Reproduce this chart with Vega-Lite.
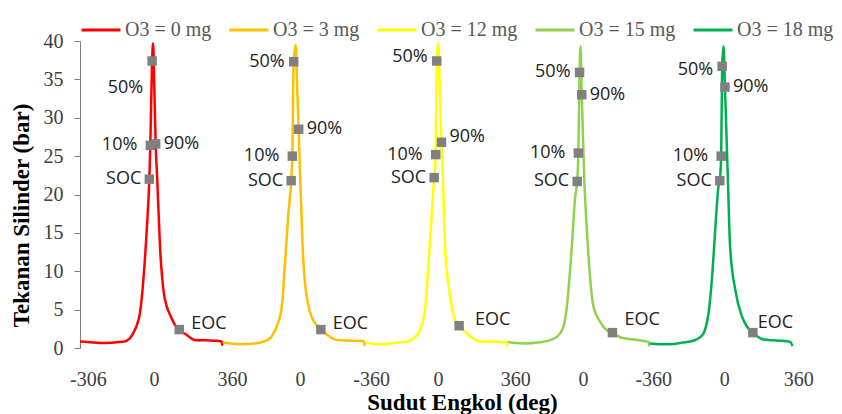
{
 "$schema": "https://vega.github.io/schema/vega-lite/v6.json",
 "width": 721,
 "height": 307,
 "autosize": {"type": "none"},
 "padding": {"left": 80, "top": 41, "right": 41, "bottom": 66},
 "background": "white",
 "config": {"view": {"stroke": null}, "font": "Liberation Serif"},
 "datasets": {
  "curves": [
   {"series":"O3 = 0 mg","x":0,"p":0.85},{"series":"O3 = 0 mg","x":50,"p":0.75},{"series":"O3 = 0 mg","x":101,"p":0.65},{"series":"O3 = 0 mg","x":160,"p":0.7},{"series":"O3 = 0 mg","x":217,"p":0.8},{"series":"O3 = 0 mg","x":252,"p":1.25},{"series":"O3 = 0 mg","x":268,"p":1.9},{"series":"O3 = 0 mg","x":290,"p":3.2},{"series":"O3 = 0 mg","x":303,"p":4.6},{"series":"O3 = 0 mg","x":320,"p":8.9},{"series":"O3 = 0 mg","x":337,"p":15.4},{"series":"O3 = 0 mg","x":350,"p":22.0},{"series":"O3 = 0 mg","x":355,"p":26.4},{"series":"O3 = 0 mg","x":364,"p":37.4},{"series":"O3 = 0 mg","x":369,"p":39.7},{"series":"O3 = 0 mg","x":376,"p":33.0},{"series":"O3 = 0 mg","x":382,"p":26.6},{"series":"O3 = 0 mg","x":390,"p":21.9},{"series":"O3 = 0 mg","x":404,"p":13.2},{"series":"O3 = 0 mg","x":421,"p":7.6},{"series":"O3 = 0 mg","x":438,"p":5.4},{"series":"O3 = 0 mg","x":455,"p":4.3},{"series":"O3 = 0 mg","x":480,"p":3.0},{"series":"O3 = 0 mg","x":501,"p":2.4},{"series":"O3 = 0 mg","x":520,"p":2.0},{"series":"O3 = 0 mg","x":539,"p":1.7},{"series":"O3 = 0 mg","x":565,"p":1.2},{"series":"O3 = 0 mg","x":589,"p":1.0},{"series":"O3 = 0 mg","x":630,"p":1.0},{"series":"O3 = 0 mg","x":673,"p":0.95},{"series":"O3 = 0 mg","x":715,"p":0.85},{"series":"O3 = 0 mg","x":719,"p":0.3},
   {"series":"O3 = 3 mg","x":721,"p":0.75},{"series":"O3 = 3 mg","x":760,"p":0.6},{"series":"O3 = 3 mg","x":808,"p":0.5},{"series":"O3 = 3 mg","x":880,"p":0.6},{"series":"O3 = 3 mg","x":943,"p":1.0},{"series":"O3 = 3 mg","x":970,"p":1.6},{"series":"O3 = 3 mg","x":993,"p":2.8},{"series":"O3 = 3 mg","x":1019,"p":5.4},{"series":"O3 = 3 mg","x":1035,"p":11.0},{"series":"O3 = 3 mg","x":1052,"p":17.5},{"series":"O3 = 3 mg","x":1066,"p":21.8},{"series":"O3 = 3 mg","x":1072,"p":25.0},{"series":"O3 = 3 mg","x":1079,"p":37.3},{"series":"O3 = 3 mg","x":1089,"p":39.5},{"series":"O3 = 3 mg","x":1097,"p":33.5},{"series":"O3 = 3 mg","x":1104,"p":28.5},{"series":"O3 = 3 mg","x":1112,"p":21.9},{"series":"O3 = 3 mg","x":1124,"p":13.2},{"series":"O3 = 3 mg","x":1134,"p":9.0},{"series":"O3 = 3 mg","x":1145,"p":6.7},{"series":"O3 = 3 mg","x":1160,"p":4.8},{"series":"O3 = 3 mg","x":1178,"p":3.6},{"series":"O3 = 3 mg","x":1216,"p":2.4},{"series":"O3 = 3 mg","x":1235,"p":2.0},{"series":"O3 = 3 mg","x":1254,"p":1.6},{"series":"O3 = 3 mg","x":1280,"p":1.2},{"series":"O3 = 3 mg","x":1313,"p":1.0},{"series":"O3 = 3 mg","x":1370,"p":0.95},{"series":"O3 = 3 mg","x":1431,"p":0.9},{"series":"O3 = 3 mg","x":1438,"p":0.25},
   {"series":"O3 = 12 mg","x":1440,"p":0.7},{"series":"O3 = 12 mg","x":1480,"p":0.55},{"series":"O3 = 12 mg","x":1524,"p":0.5},{"series":"O3 = 12 mg","x":1600,"p":0.7},{"series":"O3 = 12 mg","x":1658,"p":0.9},{"series":"O3 = 12 mg","x":1685,"p":1.3},{"series":"O3 = 12 mg","x":1708,"p":1.9},{"series":"O3 = 12 mg","x":1728,"p":3.2},{"series":"O3 = 12 mg","x":1742,"p":5.0},{"series":"O3 = 12 mg","x":1759,"p":11.0},{"series":"O3 = 12 mg","x":1776,"p":17.5},{"series":"O3 = 12 mg","x":1788,"p":22.2},{"series":"O3 = 12 mg","x":1796,"p":25.2},{"series":"O3 = 12 mg","x":1801,"p":37.4},{"series":"O3 = 12 mg","x":1809,"p":39.7},{"series":"O3 = 12 mg","x":1817,"p":33.0},{"series":"O3 = 12 mg","x":1825,"p":26.8},{"series":"O3 = 12 mg","x":1832,"p":21.9},{"series":"O3 = 12 mg","x":1843,"p":13.2},{"series":"O3 = 12 mg","x":1856,"p":9.0},{"series":"O3 = 12 mg","x":1869,"p":6.7},{"series":"O3 = 12 mg","x":1880,"p":5.0},{"series":"O3 = 12 mg","x":1894,"p":3.6},{"series":"O3 = 12 mg","x":1914,"p":2.9},{"series":"O3 = 12 mg","x":1944,"p":2.1},{"series":"O3 = 12 mg","x":1995,"p":1.1},{"series":"O3 = 12 mg","x":2029,"p":0.85},{"series":"O3 = 12 mg","x":2100,"p":0.8},{"series":"O3 = 12 mg","x":2155,"p":0.75},{"series":"O3 = 12 mg","x":2158,"p":0.2},
   {"series":"O3 = 15 mg","x":2160,"p":0.8},{"series":"O3 = 15 mg","x":2200,"p":0.65},{"series":"O3 = 15 mg","x":2247,"p":0.6},{"series":"O3 = 15 mg","x":2320,"p":0.75},{"series":"O3 = 15 mg","x":2382,"p":1.1},{"series":"O3 = 15 mg","x":2424,"p":1.9},{"series":"O3 = 15 mg","x":2445,"p":3.2},{"series":"O3 = 15 mg","x":2458,"p":5.4},{"series":"O3 = 15 mg","x":2483,"p":13.2},{"series":"O3 = 15 mg","x":2500,"p":19.7},{"series":"O3 = 15 mg","x":2510,"p":21.7},{"series":"O3 = 15 mg","x":2516,"p":25.4},{"series":"O3 = 15 mg","x":2522,"p":35.9},{"series":"O3 = 15 mg","x":2527,"p":39.3},{"series":"O3 = 15 mg","x":2533,"p":33.0},{"series":"O3 = 15 mg","x":2546,"p":21.9},{"series":"O3 = 15 mg","x":2559,"p":15.4},{"series":"O3 = 15 mg","x":2576,"p":8.9},{"series":"O3 = 15 mg","x":2592,"p":5.4},{"series":"O3 = 15 mg","x":2626,"p":3.4},{"series":"O3 = 15 mg","x":2660,"p":2.3},{"series":"O3 = 15 mg","x":2688,"p":2.0},{"series":"O3 = 15 mg","x":2727,"p":1.4},{"series":"O3 = 15 mg","x":2794,"p":1.1},{"series":"O3 = 15 mg","x":2870,"p":0.8},{"series":"O3 = 15 mg","x":2874,"p":0.2},
   {"series":"O3 = 18 mg","x":2876,"p":0.6},{"series":"O3 = 18 mg","x":2930,"p":0.5},{"series":"O3 = 18 mg","x":2980,"p":0.5},{"series":"O3 = 18 mg","x":3040,"p":0.7},{"series":"O3 = 18 mg","x":3097,"p":0.95},{"series":"O3 = 18 mg","x":3125,"p":1.3},{"series":"O3 = 18 mg","x":3148,"p":1.9},{"series":"O3 = 18 mg","x":3162,"p":3.0},{"series":"O3 = 18 mg","x":3173,"p":4.5},{"series":"O3 = 18 mg","x":3190,"p":8.9},{"series":"O3 = 18 mg","x":3207,"p":15.4},{"series":"O3 = 18 mg","x":3223,"p":21.0},{"series":"O3 = 18 mg","x":3230,"p":21.8},{"series":"O3 = 18 mg","x":3237,"p":25.0},{"series":"O3 = 18 mg","x":3242,"p":36.7},{"series":"O3 = 18 mg","x":3249,"p":39.3},{"series":"O3 = 18 mg","x":3256,"p":34.0},{"series":"O3 = 18 mg","x":3271,"p":21.9},{"series":"O3 = 18 mg","x":3282,"p":13.2},{"series":"O3 = 18 mg","x":3308,"p":7.6},{"series":"O3 = 18 mg","x":3342,"p":4.1},{"series":"O3 = 18 mg","x":3367,"p":2.8},{"series":"O3 = 18 mg","x":3397,"p":2.0},{"series":"O3 = 18 mg","x":3420,"p":1.5},{"series":"O3 = 18 mg","x":3451,"p":1.1},{"series":"O3 = 18 mg","x":3500,"p":1.0},{"series":"O3 = 18 mg","x":3535,"p":0.95},{"series":"O3 = 18 mg","x":3586,"p":0.8},{"series":"O3 = 18 mg","x":3597,"p":0.25}
  ],
  "markers": [
   {"series":"O3 = 0 mg","label":"SOC","x":350,"p":22.0},{"series":"O3 = 0 mg","label":"10%","x":355,"p":26.4},{"series":"O3 = 0 mg","label":"50%","x":364,"p":37.4},{"series":"O3 = 0 mg","label":"90%","x":382,"p":26.6},{"series":"O3 = 0 mg","label":"EOC","x":501,"p":2.4},
   {"series":"O3 = 3 mg","label":"SOC","x":1066,"p":21.8},{"series":"O3 = 3 mg","label":"10%","x":1072,"p":25.0},{"series":"O3 = 3 mg","label":"50%","x":1079,"p":37.3},{"series":"O3 = 3 mg","label":"90%","x":1104,"p":28.5},{"series":"O3 = 3 mg","label":"EOC","x":1216,"p":2.4},
   {"series":"O3 = 12 mg","label":"SOC","x":1788,"p":22.2},{"series":"O3 = 12 mg","label":"10%","x":1796,"p":25.2},{"series":"O3 = 12 mg","label":"50%","x":1801,"p":37.4},{"series":"O3 = 12 mg","label":"90%","x":1825,"p":26.8},{"series":"O3 = 12 mg","label":"EOC","x":1914,"p":2.9},
   {"series":"O3 = 15 mg","label":"SOC","x":2510,"p":21.7},{"series":"O3 = 15 mg","label":"10%","x":2516,"p":25.4},{"series":"O3 = 15 mg","label":"50%","x":2522,"p":35.9},{"series":"O3 = 15 mg","label":"90%","x":2533,"p":33.0},{"series":"O3 = 15 mg","label":"EOC","x":2688,"p":2.0},
   {"series":"O3 = 18 mg","label":"SOC","x":3230,"p":21.8},{"series":"O3 = 18 mg","label":"10%","x":3237,"p":25.0},{"series":"O3 = 18 mg","label":"50%","x":3242,"p":36.7},{"series":"O3 = 18 mg","label":"90%","x":3256,"p":34.0},{"series":"O3 = 18 mg","label":"EOC","x":3397,"p":2.0}
  ]
 },
 "encoding": {
  "x": {"field": "x", "type": "quantitative",
   "scale": {"domain": [0, 3640], "nice": false, "zero": false},
   "axis": {"title": "Sudut Engkol (deg)", "values": [40,374,768,1111,1470,1808,2197,2540,2894,3252,3626],
    "labelExpr": "datum.value == 40 ? '-306' : (datum.value == 768 || datum.value == 2197 || datum.value == 3626) ? '360' : (datum.value == 1470 || datum.value == 2894) ? '-360' : '0'",
    "domain": false, "ticks": false, "grid": false, "labelFont": "Liberation Serif", "labelFontSize": 20, "labelColor": "#404040",
    "labelPadding": 21, "labelFlush": false, "labelOverlap": false, "labelBound": false,
    "titleFont": "Liberation Serif", "titleFontSize": 23, "titleFontWeight": "bold", "titleColor": "#000000",
    "titleX": 382, "titleY": 54, "titleBaseline": "middle"}},
  "y": {"field": "p", "type": "quantitative",
   "scale": {"domain": [0, 40], "nice": false},
   "axis": {"title": "Tekanan Silinder (bar)", "values": [0,5,10,15,20,25,30,35,40], "grid": false,
    "domainColor": "#7f7f7f", "tickColor": "#7f7f7f", "tickSize": 6, "labelPadding": 11,
    "labelFont": "Liberation Serif", "labelFontSize": 20, "labelColor": "#404040",
    "titleFont": "Liberation Serif", "titleFontSize": 23, "titleFontWeight": "bold", "titleColor": "#000000",
    "titleX": -59, "titleY": 174, "titleBaseline": "middle"}}
 },
 "layer": [
  {"data": {"name": "curves"},
   "mark": {"type": "line", "strokeWidth": 2.5, "interpolate": "monotone"},
   "encoding": {
    "color": {"field": "series", "type": "nominal",
     "scale": {"domain": ["O3 = 0 mg","O3 = 3 mg","O3 = 12 mg","O3 = 15 mg","O3 = 18 mg"], "range": ["#FF0000","#FFC000","#FFFF00","#92D050","#00B050"]},
     "legend": {"orient": "none", "legendX": 0, "legendY": -32, "direction": "horizontal", "title": null,
      "gridAlign": "none",
      "symbolType": "stroke", "symbolSize": 1521, "symbolStrokeWidth": 3,
      "labelFont": "Liberation Serif", "labelFontSize": 20, "labelColor": "#595959", "labelOffset": 3,
      "columnPadding": 11, "labelLimit": 0}}
   }},
  {"data": {"name": "markers"},
   "mark": {"type": "point", "shape": "square", "filled": true, "size": 90, "color": "#808080", "opacity": 1},
   "encoding": {}},
  {"data": {"name": "markers"}, "transform": [{"filter": "datum.label == 'SOC'"}],
   "mark": {"type": "text", "align": "right", "baseline": "middle", "dx": -8, "font": "Open Sans", "fontSize": 18, "color": "#222222"},
   "encoding": {"text": {"field": "label"}}},
  {"data": {"name": "markers"}, "transform": [{"filter": "datum.label == '10%'"}],
   "mark": {"type": "text", "align": "right", "baseline": "middle", "dx": -13, "font": "Open Sans", "fontSize": 18, "color": "#222222"},
   "encoding": {"text": {"field": "label"}}},
  {"data": {"name": "markers"}, "transform": [{"filter": "datum.label == '50%'"}],
   "mark": {"type": "text", "align": "right", "baseline": "middle", "dx": -9,
    "dy": {"expr": "datum.series == 'O3 = 0 mg' ? 27 : datum.series == 'O3 = 12 mg' ? -4 : datum.series == 'O3 = 18 mg' ? 4 : 0"},
    "font": "Open Sans", "fontSize": 18, "color": "#222222"},
   "encoding": {"text": {"field": "label"}}},
  {"data": {"name": "markers"}, "transform": [{"filter": "datum.label == '90%'"}],
   "mark": {"type": "text", "align": "left", "baseline": "middle", "dx": 8,
    "dy": {"expr": "datum.series == 'O3 = 12 mg' ? -5 : 0"},
    "font": "Open Sans", "fontSize": 18, "color": "#222222"},
   "encoding": {"text": {"field": "label"}}},
  {"data": {"name": "markers"}, "transform": [{"filter": "datum.label == 'EOC'"}],
   "mark": {"type": "text", "align": "left", "baseline": "middle",
    "dx": {"expr": "datum.series == 'O3 = 12 mg' ? 16 : datum.series == 'O3 = 18 mg' ? 5 : 12"},
    "dy": {"expr": "datum.series == 'O3 = 15 mg' ? -13 : datum.series == 'O3 = 18 mg' ? -10 : -6"},
    "font": "Open Sans", "fontSize": 18, "color": "#222222"},
   "encoding": {"text": {"field": "label"}}}
 ]
}
